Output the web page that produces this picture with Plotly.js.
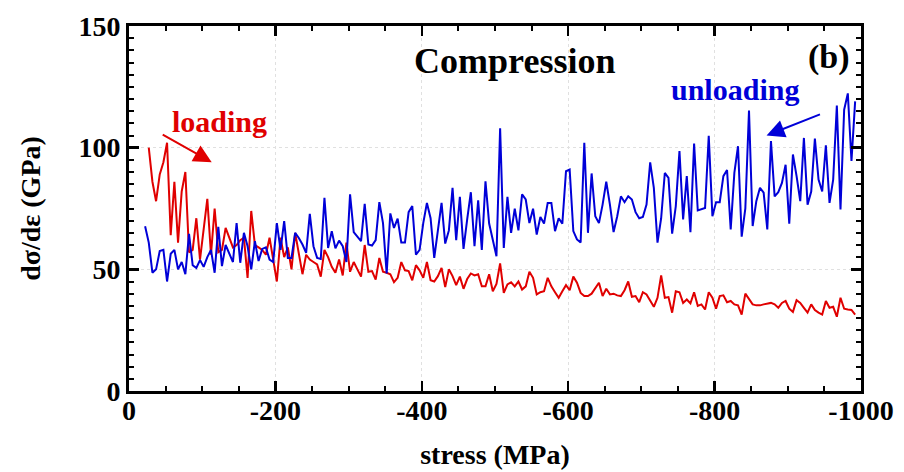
<!DOCTYPE html>
<html>
<head>
<meta charset="utf-8">
<script src="https://cdn.plot.ly/plotly-3.0.1.min.js"></script>
<style>html,body{margin:0;padding:0;background:#fff;}#chart{width:904px;height:472px;}</style>
</head>
<body>
<div id="chart"></div>
<script>
// stress (MPa) sample positions
var stress = [-22,-27,-32,-37,-42,-47,-52,-57,-62,-67,-72,-77,-82,-87,-92,-97,-102,-107,-112,-117,
-122,-127,-132,-137,-142,-147,-152,-157,-162,-167,-172,-177,-182,-187,-192,-197,-202,-207,-212,-217,
-222,-227,-232,-237,-242,-247,-252,-257,-262,-267,-272,-277,-282,-287,-292,-297,-302,-307,-312,-317,
-322,-327,-332,-337,-342,-347,-352,-357,-362,-367,-372,-377,-382,-387,-392,-397,-402,-407,-412,-417,
-422,-427,-432,-437,-442,-447,-452,-457,-462,-467,-472,-477,-482,-487,-492,-497,-502,-507,-512,-517,
-522,-527,-532,-537,-542,-547,-552,-557,-562,-567,-572,-577,-582,-587,-592,-597,-602,-607,-612,-617,
-622,-627,-632,-637,-642,-647,-652,-657,-662,-667,-672,-677,-682,-687,-692,-697,-702,-707,-712,-717,
-722,-727,-732,-737,-742,-747,-752,-757,-762,-767,-772,-777,-782,-787,-792,-797,-802,-807,-812,-817,
-822,-827,-832,-837,-842,-847,-852,-857,-862,-867,-872,-877,-882,-887,-892,-897,-902,-907,-912,-917,
-922,-927,-932,-937,-942,-947,-952,-957,-962,-967,-972,-977,-982,-987,-992];

// loading (red), GPa
var loading = [null,100,86,78,89,94,102,64,86,61,
82,90,57,58,71,54,66,79,56,75,
57,58,67,63,59,60,62,63,46.5,74,
60,59,58,56,63,54,45,63,55,59,
50,65,57,48,56,54,53,52,47,58,
55,51,48.6,54,47.5,61,49,53,50,47,
60,49,49.3,45.8,54.7,49,48.6,48,44.7,46.5,
53,49.6,49.3,45.5,51.7,49.6,46.5,53,45.5,45,
47.2,50.6,42.7,50,47.2,43.5,47,42,46,48.3,
47.5,48,43,43,48,41,44,52.4,40.3,43.8,
44.7,43,45,41.7,43,49,46.5,39.7,40.6,41,
46.5,43,40.6,38.3,41,43.5,41.4,47,44.5,40.3,
39,39,40,42,44.5,39,42,39.7,40,39.3,
39,41.4,45,38.7,39,36.5,40.6,39.7,37,34.6,
38.3,47.5,38.3,38.6,32.2,41,40.6,36.2,37.6,36,
40.6,35,35.6,33.5,40.6,38.3,33.8,39,39.3,36.5,
37,35.6,35.2,31.4,40,37.6,35.6,35.2,35.2,35.6,
36,36.2,35.6,34.2,36.2,37,33.8,32.5,37.3,36.2,
34.2,32.2,35.6,33.3,32.2,31.4,37,34.2,34.6,30.5,
38.3,33.8,33.5,33.3,31.4];

// unloading (blue), GPa
var unloading = [67.7,61,48.6,50,57.5,58,45,56.4,58,50,
53,48,64.6,51.7,50.6,53.8,51,55,58,48.6,
67.5,51.3,60,56.8,53,69,52.7,65,59.5,50,
61.6,53.4,58.4,59,54,53,69,58,69.8,54.7,
54.7,65,62.9,60.2,56.8,72.8,59.5,54.7,54.3,79.4,
58.8,65.7,58.6,61.8,59.5,53,80.8,65.3,63.4,61.6,
76.9,60.2,59.8,62,77.6,69,48.3,73,67,70.8,
61,61,73.5,76,56,58,69,77.3,71,54.7,
66,77.3,60.6,66,83.5,62,79.8,58.4,70.5,81.7,
59.5,78.4,58,86.2,68.8,62.3,55.4,108,58.8,79.8,
65,74.9,66,80.8,78.7,69,74.9,64.3,71.5,68.8,
77.3,77.3,65.7,71,68.8,90.3,91,65.7,62.3,61,
102,65,89.4,71.8,69,76.6,86,76.6,65.3,71.8,
80,77.6,80,78.7,73.5,71,71.5,76.6,94,83.5,
61,71,89.6,87.6,64.7,76,98.6,70.5,88.3,65.3,
101.7,74.2,74.8,75.2,104.9,71.8,77.6,77.6,88.3,90.8,
66.4,89.6,100.6,63.4,75,115.3,67.8,78,83.5,81.5,
66.4,102.7,80,81.7,85.5,93,68.8,97.2,88.3,78,
104,76.6,82,103.7,86.9,82,101,77.3,86.9,117.3,
74.6,115.6,122.3,94.5,119];

var xTickVals = [0,-200,-400,-600,-800,-1000];
var xTickText = ['0','-200','-400','-600','-800','-1000'];
var yTickVals = [0,50,100,150];

var RED = '#e00000', BLUE = '#0000d8';
var FONT = 'Liberation Serif, Times New Roman, serif';

var traces = [
  {x: stress, y: loading, mode: 'lines', name: 'loading', line: {color: RED, width: 2}, hoverinfo: 'skip'},
  {x: stress, y: unloading, mode: 'lines', name: 'unloading', line: {color: BLUE, width: 2}, hoverinfo: 'skip'}
];

var axisCommon = {
  showline: true, linecolor: '#000', linewidth: 3, mirror: 'allticks',
  ticks: 'inside', ticklen: 10, tickwidth: 2.5, tickcolor: '#000',
  showgrid: true, gridcolor: '#e0e0e0', griddash: 'dot', gridwidth: 1,
  zeroline: false,
  tickfont: {family: FONT, size: 28, color: '#000', weight: 'bold'}
};

var layout = {
  width: 904, height: 472,
  margin: {l: 129, r: 43, t: 26, b: 81},
  paper_bgcolor: '#fff', plot_bgcolor: '#fff',
  showlegend: false,
  font: {family: FONT, color: '#000'},
  title: {text: '<b>Compression</b>', font: {family: FONT, size: 36, color: '#000'},
          x: 0.527, xanchor: 'center', y: 1 - 60/472, yanchor: 'middle', xref: 'paper'},
  xaxis: Object.assign({}, axisCommon, {
    range: [0, -1000], tickvals: xTickVals, ticktext: xTickText,
    ticklabelstandoff: -8,
    minor: {dtick: 50, ticks: 'inside', ticklen: 5, tickwidth: 2, tickcolor: '#000', showgrid: false},
    title: {text: '<b>stress (MPa)</b>', font: {family: FONT, size: 28, color: '#000'}, standoff: 20}
  }),
  yaxis: Object.assign({}, axisCommon, {
    range: [0, 150], tickvals: yTickVals,
    minor: {dtick: 5, ticks: 'inside', ticklen: 5, tickwidth: 2, tickcolor: '#000', showgrid: false},
    title: {text: '<b>dσ/dε (GPa)</b>', font: {family: FONT, size: 28, color: '#000'}, standoff: 30}
  }),
  annotations: [
    {x: -124, y: 110.9, xref: 'x', yref: 'y', text: '<b>loading</b>', showarrow: false,
     font: {family: FONT, size: 30, color: RED}, xanchor: 'center', yanchor: 'middle'},
    {x: -828, y: 123.9, xref: 'x', yref: 'y', text: '<b>unloading</b>', showarrow: false,
     font: {family: FONT, size: 30, color: BLUE}, xanchor: 'center', yanchor: 'middle'},
    {x: -956, y: 137.2, xref: 'x', yref: 'y', text: '<b>(b)</b>', showarrow: false,
     font: {family: FONT, size: 34, color: '#000'}, xanchor: 'center', yanchor: 'middle'},
    {x: -113, y: 94, xref: 'x', yref: 'y', ax: -44, ay: 105.7, axref: 'x', ayref: 'y',
     text: '', showarrow: true, arrowhead: 2, arrowsize: 1.8, arrowwidth: 2, arrowcolor: RED},
    {x: -871, y: 105, xref: 'x', yref: 'y', ax: -946, ay: 113.9, axref: 'x', ayref: 'y',
     text: '', showarrow: true, arrowhead: 2, arrowsize: 1.8, arrowwidth: 2, arrowcolor: BLUE}
  ]
};

Plotly.newPlot('chart', traces, layout, {staticPlot: true, displayModeBar: false});
</script>
</body>
</html>
